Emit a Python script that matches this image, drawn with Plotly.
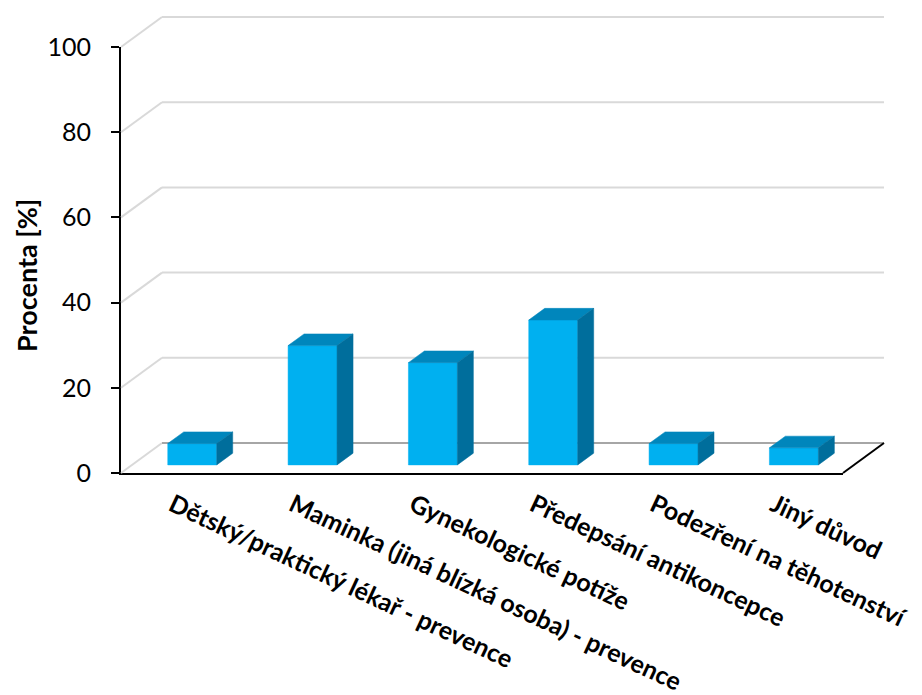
import plotly.graph_objects as go

# Survey data: reason for the first gynecological visit
categories = [
    "Dětský/praktický lékař - prevence",
    "Maminka (jiná blízká osoba) - prevence",
    "Gynekologické potíže",
    "Předepsání antikoncepce",
    "Podezření na těhotenství",
    "Jiný důvod",
]
values = [5, 28, 24, 34, 5, 4]
y_ticks = [0, 20, 40, 60, 80, 100]

# --- page geometry (pixels) -------------------------------------------------
W, H = 922, 695
PX_LEFT = 121          # pixel of category position -0.5 (front plane)
PX_ZERO = 473          # pixel of value 0 (front plane)
PX_PER_CAT = 120.33    # pixels per category step
PX_PER_PCT = 4.26      # pixels per percent
DEPTH_PX = (41, 30)    # oblique offset of the back wall (right, up)

DX = DEPTH_PX[0] / PX_PER_CAT   # depth offset in category units
DY = DEPTH_PX[1] / PX_PER_PCT   # depth offset in percent units
N = len(categories)
X_LO, X_HI = -0.5, N - 0.5

BAR_HALF = 0.2035
F0, F1 = 0.27, 0.66    # bar front / back position within the floor depth

FRONT = "#00B0F0"
TOP = "#0086BC"
SIDE = "#006E9C"
GRID = "#d9d9d9"
FLOOR_BACK = "#a6a6a6"

FONT = "Lato"

fig = go.Figure()

# Drawing subplot (x2/y2) spans the whole page with the same scale as the axes
def line_trace(xs, ys, color, width):
    return go.Scatter(x=xs, y=ys, mode="lines", xaxis="x2", yaxis="y2",
                      line=dict(color=color, width=width),
                      hoverinfo="skip", showlegend=False)

# wall gridlines: left side wall diagonals + back wall horizontals
for t in y_ticks:
    color = FLOOR_BACK if t == 0 else GRID
    fig.add_trace(line_trace([X_LO, X_LO + DX], [t, t + DY], GRID, 2))
    fig.add_trace(line_trace([X_LO + DX, X_HI + DX], [t + DY, t + DY], color, 2))

# right edge of the floor
fig.add_trace(line_trace([X_HI, X_HI + DX], [0, DY], "#000000", 2))

def face(xs, ys, color):
    return go.Scatter(x=xs + [xs[0]], y=ys + [ys[0]], mode="lines", fill="toself",
                      fillcolor=color, line=dict(color=color, width=0.5),
                      xaxis="x2", yaxis="y2", hoverinfo="skip", showlegend=False)

for i, v in enumerate(values):
    a0, b0 = F0 * DX, F0 * DY
    a1, b1 = F1 * DX, F1 * DY
    xl, xr = i - BAR_HALF, i + BAR_HALF
    # front face
    fig.add_trace(face([xl + a0, xr + a0, xr + a0, xl + a0],
                       [b0, b0, v + b0, v + b0], FRONT))
    # top face
    fig.add_trace(face([xl + a0, xr + a0, xr + a1, xl + a1],
                       [v + b0, v + b0, v + b1, v + b1], TOP))
    # right side face
    fig.add_trace(face([xr + a0, xr + a1, xr + a1, xr + a0],
                       [b0, b1, v + b1, v + b0], SIDE))

# invisible anchor trace so the visible axes form a subplot
fig.add_trace(go.Scatter(x=[0], y=[0], mode="markers", marker=dict(opacity=0),
                         hoverinfo="skip", showlegend=False))

x2_range = [(0 - PX_LEFT) / PX_PER_CAT + X_LO, (W - PX_LEFT) / PX_PER_CAT + X_LO]
y2_range = [(PX_ZERO - H) / PX_PER_PCT, PX_ZERO / PX_PER_PCT]

px_right = PX_LEFT + N * PX_PER_CAT
px_top = PX_ZERO - 100 * PX_PER_PCT

fig.update_layout(
    template="none",
    width=W, height=H,
    margin=dict(l=0, r=0, t=0, b=0, autoexpand=False),
    paper_bgcolor="white", plot_bgcolor="rgba(0,0,0,0)",
    font=dict(family=FONT, color="#000000"),
    showlegend=False,
    xaxis=dict(domain=[PX_LEFT / W, px_right / W], range=[X_LO, X_HI],
               tickvals=list(range(N)), ticktext=categories, tickangle=25,
               tickfont=dict(size=25, weight="bold"), ticks="",
               ticklabelshift=-9, ticklabelstandoff=6,
               showline=True, linecolor="#000000", linewidth=2,
               showgrid=False, zeroline=False, fixedrange=True, automargin=False),
    yaxis=dict(domain=[(H - PX_ZERO) / H, (H - px_top) / H], range=[0, 100],
               tickvals=y_ticks, ticks="outside", ticklen=8, tickwidth=2,
               tickcolor="#000000", tickfont=dict(size=25),
               ticklabelstandoff=15,
               showline=True, linecolor="#000000", linewidth=2,
               showgrid=False, zeroline=False, fixedrange=True, automargin=False),
    xaxis2=dict(domain=[0, 1], range=x2_range, visible=False, fixedrange=True,
                anchor="y2", automargin=False),
    yaxis2=dict(domain=[0, 1], range=y2_range, visible=False, fixedrange=True,
                anchor="x2", automargin=False),
    annotations=[dict(text="Procenta [%]", textangle=-90, xref="paper", yref="paper",
                      x=26 / W, y=(H - 276) / H, xanchor="center", yanchor="middle",
                      showarrow=False, font=dict(size=27, weight="bold"))],
)

fig.write_html("out.html")
